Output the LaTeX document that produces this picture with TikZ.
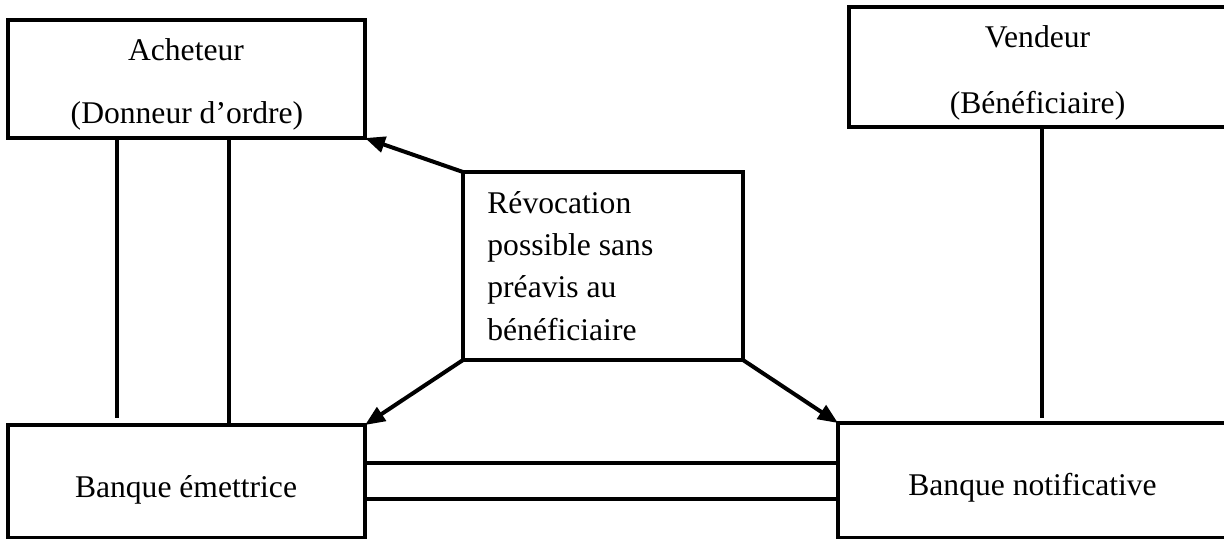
\documentclass[tikz,border=0pt]{standalone}
\usepackage{fontspec}
\setmainfont{Liberation Serif}
\usetikzlibrary{arrows.meta}
\begin{document}
\begin{tikzpicture}[x=0.5pt,y=-0.5pt,
  frame/.style={draw,line width=2pt,inner sep=0pt,outer sep=0pt},
  lbl/.style={anchor=base,inner sep=0pt,font=\fontsize{15.8pt}{19pt}\selectfont},
  lblleft/.style={anchor=base west,inner sep=0pt,font=\fontsize{15.8pt}{19pt}\selectfont},
  link/.style={line width=2pt},
  arr/.style={line width=2pt,-{Triangle[length=10pt,width=8pt]}}]
\useasboundingbox (0,0) rectangle (1224,538);
\fill[white] (0,0) rectangle (1224,538);
\clip (0,0) rectangle (1224,538);

% boxes (the two on the right run past the page edge)
\node[frame,minimum width=178.5pt,minimum height=59pt] (ach) at (186.5,79) {};
\node[frame,minimum width=191.5pt,minimum height=60pt] (ven) at (1040.5,67) {};
\node[frame,minimum width=140pt,minimum height=94pt] (rev) at (603,266) {};
\node[frame,minimum width=178.5pt,minimum height=56.5pt] (bem) at (186.5,481.5) {};
\node[frame,minimum width=197pt,minimum height=57.5pt] (bno) at (1035,480.5) {};

% texts
\node[lbl] (achA) at (186,60) {Acheteur};
\node[lbl] (achB) at (187,123) {(Donneur d’ordre)};
\node[lbl] (venA) at (1037.5,47) {Vendeur};
\node[lbl] (venB) at (1037.5,113) {(Bénéficiaire)};
\node[lblleft] (r1) at (487,213) {Révocation};
\node[lblleft] (r2) at (487,255) {possible sans};
\node[lblleft] (r3) at (487,297) {préavis au};
\node[lblleft] (r4) at (487,340) {bénéficiaire};
\node[lbl] (bemT) at (186,497) {Banque émettrice};
\node[lbl] (bnoT) at (1032.5,495) {Banque notificative};

% vertical links
\coordinate (v1) at (117,418);
\coordinate (v2) at (229,300);
\coordinate (v3) at (1042,418);
\draw[link] (ach.south -| v1) -- (v1);
\draw[link] (ach.south -| v2) -- (bem.north -| v2);
\draw[link] (ven.south -| v3) -- (v3);

% horizontal links between the banks
\coordinate (h1) at (600,463);
\coordinate (h2) at (600,499);
\draw[link] (bem.east |- h1) -- (bno.west |- h1);
\draw[link] (bem.east |- h2) -- (bno.west |- h2);

% arrows from the revocation box
\draw[arr] (rev.north west) -- (ach.south east);
\draw[arr] (rev.south west) -- (bem.north east);
\draw[arr] (rev.south east) -- (bno.north west);
\end{tikzpicture}
\end{document}
